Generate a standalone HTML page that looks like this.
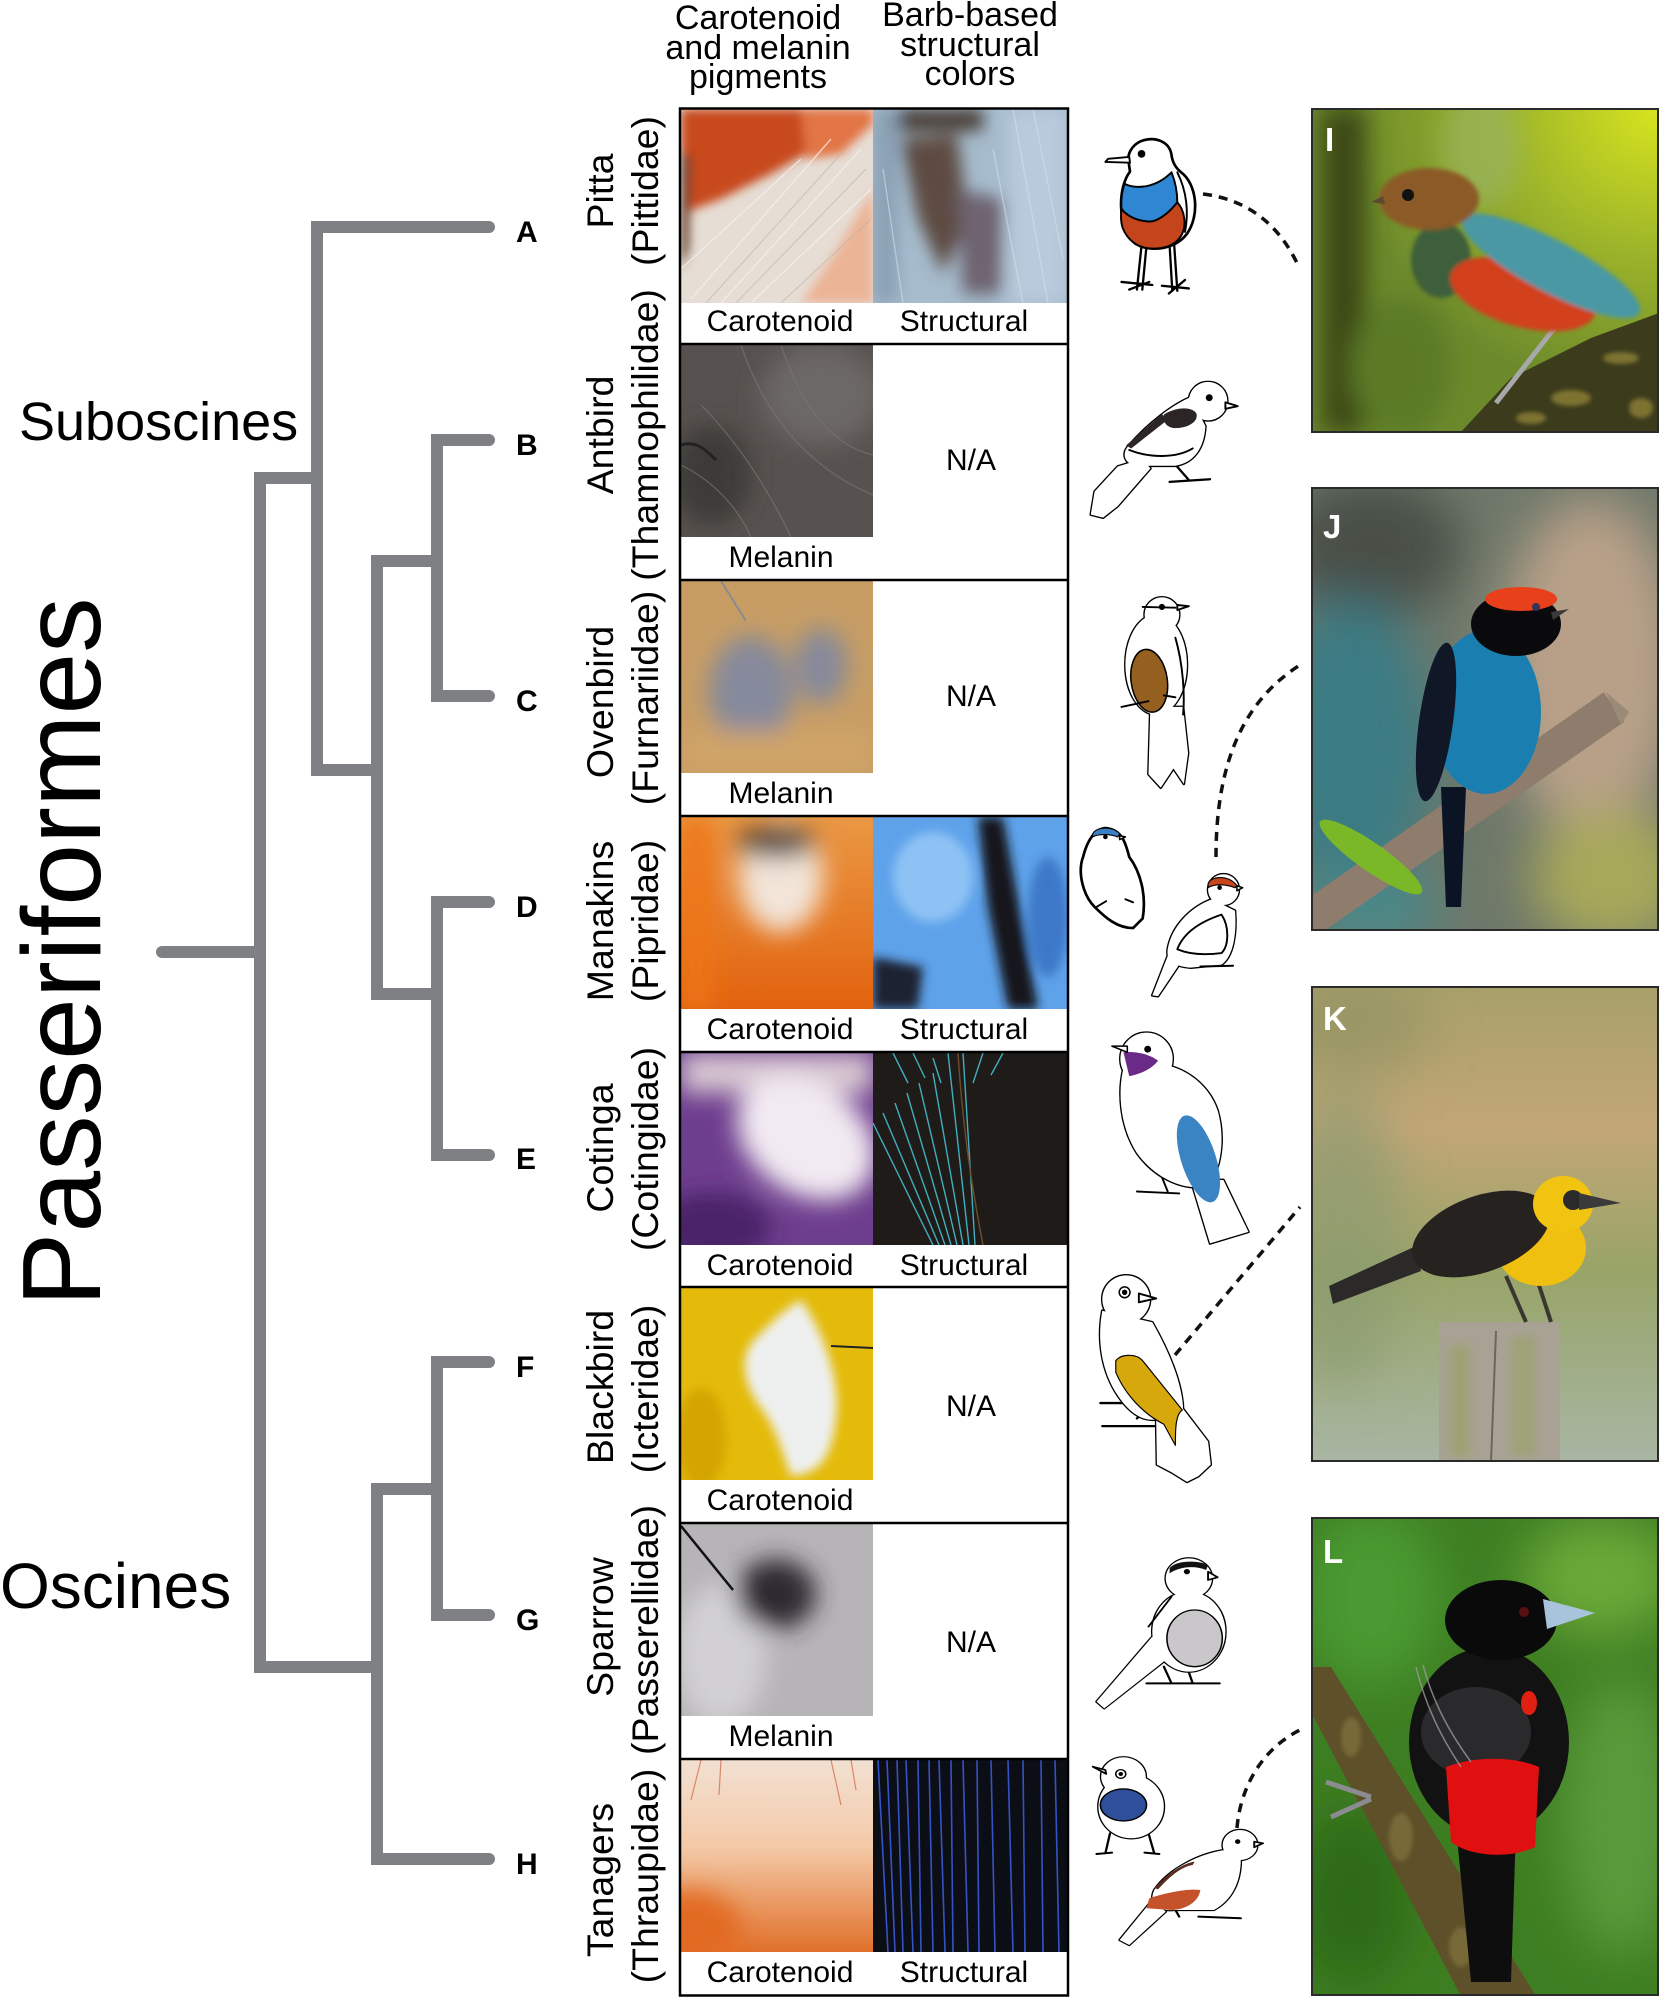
<!DOCTYPE html>
<html><head><meta charset="utf-8"><style>
html,body{margin:0;padding:0;background:#fff;}
svg{display:block;}
text{font-family:"Liberation Sans",Arial,sans-serif;}
</style></head><body>
<svg width="1660" height="1999" viewBox="0 0 1660 1999" xmlns="http://www.w3.org/2000/svg">
<defs>
<filter id="b2" x="-20%" y="-20%" width="140%" height="140%"><feGaussianBlur stdDeviation="2"/></filter>
<filter id="b5" x="-30%" y="-30%" width="160%" height="160%"><feGaussianBlur stdDeviation="5"/></filter>
<filter id="b8" x="-40%" y="-40%" width="180%" height="180%"><feGaussianBlur stdDeviation="8"/></filter>
<filter id="b12" x="-50%" y="-50%" width="200%" height="200%"><feGaussianBlur stdDeviation="12"/></filter>
<filter id="b25" x="-60%" y="-60%" width="220%" height="220%"><feGaussianBlur stdDeviation="25"/></filter>
<radialGradient id="gIy" cx="1" cy="0" r="0.9"><stop offset="0" stop-color="#d8e41e"/><stop offset="0.5" stop-color="#9cb42a"/><stop offset="1" stop-color="#9cb42a" stop-opacity="0"/></radialGradient>
<linearGradient id="gK" x1="0" y1="0" x2="0" y2="1"><stop offset="0" stop-color="#a8a06a"/><stop offset="0.3" stop-color="#c2a676"/><stop offset="0.6" stop-color="#98a468"/><stop offset="1" stop-color="#a8b6a4"/></linearGradient>
<linearGradient id="gDl" x1="0" y1="0" x2="0" y2="1"><stop offset="0" stop-color="#ea9844"/><stop offset="1" stop-color="#e2620e"/></linearGradient>
<linearGradient id="gHl" x1="0" y1="0" x2="0" y2="1"><stop offset="0" stop-color="#f2e0d2"/><stop offset="0.45" stop-color="#f4caa8"/><stop offset="1" stop-color="#e0702a"/></linearGradient>

<g id="sA"><path d="M182 238 C150 280,148 380,195 425 C235 450,300 440,330 400 C365 350,355 270,315 240 C300 228,292 212,290 195 C285 160,250 150,225 155 C195 160,175 185,178 210 Z"/></g>
<g id="sB"><circle cx="385" cy="835" r="50"/><path d="M340 825 C300 840,230 890,175 955 C160 975,170 1000,200 1003 L300 1003 C350 995,375 955,378 900 Z"/><path d="M215 985 L150 1005 L90 1070 L80 1130 L112 1138 L150 1108 L235 1010 Z"/></g>
<g id="sC"><circle cx="265" cy="90" r="45"/><ellipse cx="250" cy="220" rx="80" ry="130"/><path d="M235 330 L230 505 L262 540 L295 490 L322 530 L333 450 L320 330 Z"/></g>
<g id="sD1"><path d="M60 720 C45 760,60 820,90 850 C120 880,150 905,190 905 L215 880 C225 820,210 760,180 720 C170 680,160 650,120 645 C90 645,70 680,60 720 Z"/></g>
<g id="sD2"><circle cx="425" cy="805" r="40"/><path d="M395 830 C340 850,290 900,280 960 C275 990,300 1005,340 1008 L420 1000 C450 980,460 920,455 860 Z"/><path d="M285 965 L240 1080 L255 1082 L310 1000 Z"/></g>
<g id="sE"><circle cx="225" cy="1245" r="68"/><path d="M165 1270 C150 1330,155 1420,200 1490 C250 1560,330 1590,380 1575 C420 1540,430 1450,410 1380 C390 1320,340 1280,290 1265 Z"/><path d="M340 1560 L390 1725 L490 1695 L425 1560 Z"/></g>
<g id="sF"><circle cx="172" cy="570" r="62"/><path d="M110 600 C95 680,110 760,150 820 C190 880,230 890,260 880 L320 860 C320 790,280 700,240 630 Z"/><path d="M250 880 L252 1000 L290 1020 L330 1045 L360 1030 L392 1000 L385 940 L320 855 Z"/></g>
<g id="sG"><circle cx="335" cy="235" r="60"/><ellipse cx="335" cy="395" rx="95" ry="120"/><path d="M240 410 L95 605 L115 625 L275 480 Z"/></g>
<g id="sH1"><circle cx="165" cy="830" r="58"/><ellipse cx="185" cy="920" rx="85" ry="95"/></g>
<g id="sH2"><circle cx="468" cy="1035" r="45"/><path d="M430 1050 C360 1060,280 1110,245 1170 C230 1210,250 1235,300 1230 L400 1230 C450 1200,470 1140,470 1080 Z"/><path d="M240 1200 L155 1320 L180 1335 L275 1235 Z"/></g>
</defs>

<!-- ============ TREE ============ -->
<g stroke="#7f8083" stroke-width="12" fill="none" stroke-linecap="round" stroke-linejoin="miter">
<path d="M162 952 H260"/>
<path d="M317 478 H260 V1667 H377"/>
<path d="M489 227 H317 V770 H377"/>
<path d="M437 561 H377 V994 H437"/>
<path d="M489 440 H437 V696 H489"/>
<path d="M489 902 H437 V1155 H489"/>
<path d="M437 1489 H377 V1859 H489"/>
<path d="M489 1362 H437 V1615 H489"/>
</g>
<g font-weight="bold" font-size="30" fill="#000">
<text x="516" y="242">A</text>
<text x="516" y="455">B</text>
<text x="516" y="711">C</text>
<text x="516" y="917">D</text>
<text x="516" y="1169">E</text>
<text x="516" y="1377">F</text>
<text x="516" y="1630">G</text>
<text x="516" y="1874">H</text>
</g>
<text x="19" y="440" font-size="54" fill="#000">Suboscines</text>
<text x="0" y="1608" font-size="64" fill="#000">Oscines</text>
<text transform="translate(100,952) rotate(-90)" text-anchor="middle" font-size="111" fill="#000">Passeriformes</text>

<!-- ============ HEADERS ============ -->
<g font-size="34" text-anchor="middle" fill="#000">
<text x="758" y="29">Carotenoid</text>
<text x="758" y="59">and melanin</text>
<text x="758" y="88">pigments</text>
<text x="970" y="26">Barb-based</text>
<text x="970" y="56">structural</text>
<text x="970" y="85">colors</text>
</g>

<!-- ============ FAMILY LABELS ============ -->
<g font-size="37.5" text-anchor="middle" fill="#000">
<text transform="translate(613,191) rotate(-90)">Pitta</text>
<text transform="translate(658,191) rotate(-90)">(Pittidae)</text>
<text transform="translate(613,435) rotate(-90)">Antbird</text>
<text transform="translate(658,435) rotate(-90)">(Thamnophilidae)</text>
<text transform="translate(613,702) rotate(-90)">Ovenbird</text>
<text transform="translate(658,698) rotate(-90)">(Furnariidae)</text>
<text transform="translate(613,921) rotate(-90)">Manakins</text>
<text transform="translate(658,921) rotate(-90)">(Pipridae)</text>
<text transform="translate(613,1148) rotate(-90)">Cotinga</text>
<text transform="translate(658,1149) rotate(-90)">(Cotingidae)</text>
<text transform="translate(613,1387) rotate(-90)">Blackbird</text>
<text transform="translate(658,1389) rotate(-90)">(Icteridae)</text>
<text transform="translate(613,1627) rotate(-90)">Sparrow</text>
<text transform="translate(658,1630) rotate(-90)">(Passerellidae)</text>
<text transform="translate(613,1880) rotate(-90)">Tanagers</text>
<text transform="translate(658,1876) rotate(-90)">(Thraupidae)</text>
</g>

<!-- ============ FEATHER CELLS ============ -->
<!-- Row A left -->
<svg x="681" y="109" width="192" height="194">
<rect width="192" height="194" fill="#e6ddd5"/>
<g filter="url(#b5)">
<path d="M0 0 H190 L150 30 L90 65 L40 90 L0 105 Z" fill="#c8481e"/>
<path d="M120 0 H192 V15 L160 45 L125 50 Z" fill="#e27444"/>
<path d="M192 80 L192 194 L120 194 L150 150 Z" fill="#ecb496"/>
<path d="M0 40 L10 50 L8 140 L0 160 Z" fill="#6a4432"/>
</g>
<g stroke="#f6f2ee" stroke-width="1.5" opacity="0.7"><path d="M10 190 L150 30 M40 194 L180 40 M70 194 L190 80 M0 160 L120 50"/></g>
<g stroke="#b8b0a8" stroke-width="1" opacity="0.6"><path d="M25 194 L160 45 M55 194 L185 60 M100 194 L190 110"/></g>
</svg>
<!-- Row A right -->
<svg x="873" y="109" width="194" height="194">
<rect width="194" height="194" fill="#a6bccd"/>
<g filter="url(#b8)">
<rect x="0" y="0" width="110" height="22" fill="#4a3c34"/>
<rect x="0" y="0" width="25" height="194" fill="#8aa0b4"/>
<path d="M27 30 L84 25 L95 110 L70 165 L45 110 Z" fill="#5d4c42"/>
<path d="M84 80 L130 90 L128 185 L90 185 Z" fill="#6e6470"/>
<rect x="135" y="0" width="59" height="194" fill="#b8cadb"/>
</g>
<g stroke="#d4e0ea" stroke-width="1.3" opacity="0.6"><path d="M140 0 L175 194 M160 0 L190 150 M120 40 L150 194 M10 60 L30 194"/></g>
</svg>
<!-- Row B left -->
<svg x="681" y="345" width="192" height="192">
<rect width="192" height="192" fill="#57524f"/>
<g filter="url(#b12)">
<ellipse cx="140" cy="50" rx="60" ry="50" fill="#6c6765"/>
<ellipse cx="30" cy="130" rx="40" ry="50" fill="#3e3a39"/>
</g>
<g stroke="#7a7573" stroke-width="1.2" fill="none" opacity="0.7"><path d="M60 0 C80 60,120 120,192 150 M100 0 C120 60,150 100,192 110 M20 60 C60 100,90 150,110 192 M0 120 C40 140,60 170,70 192"/></g>
<path d="M0 100 C15 95,25 105,35 115" stroke="#222" stroke-width="3" fill="none"/>
</svg>
<!-- Row C left -->
<svg x="681" y="581" width="192" height="192">
<rect width="192" height="192" fill="#c79d64"/>
<g filter="url(#b12)">
<ellipse cx="70" cy="110" rx="42" ry="55" fill="#7a86a6" opacity="0.85"/>
<ellipse cx="140" cy="85" rx="26" ry="38" fill="#7a86a6" opacity="0.85"/>
<rect x="0" y="150" width="192" height="42" fill="#d0a468"/>
</g>
<path d="M40 0 L65 40" stroke="#8a8a90" stroke-width="2"/>
</svg>
<!-- Row D left -->
<svg x="681" y="817" width="192" height="192">
<rect width="192" height="192" fill="url(#gDl)"/>
<g filter="url(#b12)">
<rect x="0" y="0" width="30" height="192" fill="#ee7412"/>
<ellipse cx="100" cy="60" rx="42" ry="55" fill="#f2e4d8"/>
<ellipse cx="95" cy="25" rx="40" ry="16" fill="#5a4434"/>
</g>
</svg>
<!-- Row D right -->
<svg x="873" y="817" width="194" height="192">
<rect width="194" height="192" fill="#5ea2ea"/>
<g filter="url(#b5)">
<path d="M105 0 L130 0 L165 192 L135 192 L115 90 Z" fill="#12161e"/>
<path d="M0 140 L50 150 L45 192 L0 192 Z" fill="#1c2232"/>
<ellipse cx="60" cy="60" rx="40" ry="45" fill="#8ec2f4"/>
<ellipse cx="175" cy="100" rx="20" ry="60" fill="#3c78c8"/>
</g>
</svg>
<!-- Row E left -->
<svg x="681" y="1053" width="192" height="192">
<rect width="192" height="192" fill="#6e3e8e"/>
<g filter="url(#b12)">
<rect x="0" y="0" width="192" height="40" fill="#d8c8d2"/>
<ellipse cx="125" cy="85" rx="75" ry="55" fill="#f2eaf2" transform="rotate(35 125 85)"/>
<ellipse cx="30" cy="175" rx="60" ry="35" fill="#4a2268"/>
</g>
</svg>
<!-- Row E right -->
<svg x="873" y="1053" width="194" height="192">
<rect width="194" height="192" fill="#1e1b19"/>
<g stroke="#45c0d0" stroke-width="1.4" fill="none" opacity="0.9">
<path d="M60 192 L0 70 M66 192 L10 60 M72 192 L22 50 M78 192 L34 40 M84 192 L46 30 M90 192 L60 20 M96 192 L75 0 M102 192 L90 0"/>
<path d="M20 0 L35 30 M40 0 L52 25 M60 5 L68 30 M110 0 L100 30 M130 0 L118 22"/>
</g>
<path d="M85 0 C90 80,100 140,110 192" stroke="#6a4a2a" stroke-width="1.5" fill="none"/>
</svg>
<!-- Row F left -->
<svg x="681" y="1288" width="192" height="192">
<rect width="192" height="192" fill="#e4bb0a"/>
<g filter="url(#b5)">
<path d="M120 12 C140 40,160 90,155 130 C150 170,140 185,110 188 C100 160,95 140,80 120 C65 100,55 70,75 50 C90 35,105 20,120 12 Z" fill="#eef0f0"/>
<ellipse cx="20" cy="150" rx="25" ry="50" fill="#d4a406"/>
</g>
<path d="M150 58 L192 60" stroke="#222" stroke-width="2"/>
</svg>
<!-- Row G left -->
<svg x="681" y="1524" width="192" height="192">
<rect width="192" height="192" fill="#b6b4b7"/>
<g filter="url(#b12)">
<ellipse cx="40" cy="130" rx="45" ry="70" fill="#d2d0d3"/>
<ellipse cx="95" cy="70" rx="40" ry="35" fill="#2e2a30"/>
</g>
<path d="M0 2 L52 66" stroke="#111" stroke-width="2.5"/>
</svg>
<!-- Row H left -->
<svg x="681" y="1760" width="192" height="192">
<rect width="192" height="192" fill="url(#gHl)"/>
<g filter="url(#b12)"><ellipse cx="10" cy="170" rx="50" ry="40" fill="#e26a24"/></g>
<g stroke="#d46040" stroke-width="1.2" fill="none" opacity="0.7"><path d="M20 0 L10 40 M40 0 L38 35 M150 0 L160 45 M170 0 L175 30"/></g>
</svg>
<!-- Row H right -->
<svg x="873" y="1760" width="194" height="192">
<rect width="194" height="192" fill="#0c0e16"/>
<g stroke="#3a5ad8" stroke-width="1.6" fill="none" opacity="0.9">
<path d="M5 0 L15 192 M14 0 L22 192 M24 0 L30 192 M33 0 L40 192 M45 0 L48 192 M56 0 L60 192 M66 0 L72 192 M78 0 L80 192 M90 0 L95 192 M104 0 L106 192 M118 0 L122 192 M135 0 L140 192 M150 0 L152 192 M168 0 L170 192 M182 0 L186 192"/>
</g>
</svg>

<!-- table lines -->
<g stroke="#000" stroke-width="2.5" fill="none">
<rect x="680" y="108.5" width="388" height="1887"/>
<path d="M680 344 H1068 M680 580 H1068 M680 816 H1068 M680 1052 H1068 M680 1287 H1068 M680 1523 H1068 M680 1759 H1068"/>
</g>
<!-- captions -->
<g font-size="30" text-anchor="middle" fill="#000">
<text x="780" y="331">Carotenoid</text><text x="964" y="331">Structural</text>
<text x="781" y="567">Melanin</text><text x="971" y="470">N/A</text>
<text x="781" y="803">Melanin</text><text x="971" y="706">N/A</text>
<text x="780" y="1039">Carotenoid</text><text x="964" y="1039">Structural</text>
<text x="780" y="1275">Carotenoid</text><text x="964" y="1275">Structural</text>
<text x="780" y="1510">Carotenoid</text><text x="971" y="1416">N/A</text>
<text x="781" y="1746">Melanin</text><text x="971" y="1652">N/A</text>
<text x="780" y="1982">Carotenoid</text><text x="964" y="1982">Structural</text>
</g>

<!-- ============ BIRD DRAWINGS ============ -->
<g transform="translate(1060,80) scale(0.3846)" stroke-linejoin="round" stroke-linecap="round">
 <!-- A pitta -->
 <path d="M212 430 L200 545 M225 430 L214 545 M285 430 L292 548 M297 430 L305 548 M160 525 L240 533 M180 545 L232 525 M265 535 L335 542 M283 555 L325 520" stroke="#000" stroke-width="6" fill="none"/>
 <use href="#sA" stroke="#000" stroke-width="7" fill="#fff"/>
 <path d="M168 270 C200 285,250 280,290 240 C300 265,305 290,305 318 C280 350,250 370,230 368 C195 366,170 350,160 335 C158 310,162 285,168 270 Z" fill="#2f87d4" stroke="#000" stroke-width="5"/>
 <path d="M160 335 C170 350,195 366,230 368 C250 370,280 350,305 318 C325 340,330 380,315 405 C300 430,270 440,235 438 C200 436,175 415,163 385 C158 370,158 350,160 335 Z" fill="#c4441c" stroke="#000" stroke-width="5"/>
 <path d="M305 240 C330 290,335 345,325 395" stroke="#000" stroke-width="5" fill="none"/>
 <path d="M180 200 L125 205 L118 213 L182 215 Z" fill="#fff" stroke="#000" stroke-width="5"/>
 <circle cx="212" cy="192" r="10" fill="#000"/>
 <!-- B antbird -->
 <path d="M300 1000 L335 1040 M285 1045 L390 1038" stroke="#000" stroke-width="6" fill="none"/>
 <use href="#sB" stroke="#000" stroke-width="7" fill="#fff"/>
 <use href="#sB" fill="#fff"/>
 <path d="M270 870 C300 850,345 848,355 868 C360 890,330 905,300 905 C280 905,265 890,270 870 Z" fill="#2b2526"/>
 <path d="M265 868 L172 950 L185 958 L278 885 Z" fill="#2b2526"/>
 <path d="M180 962 C230 982,300 985,345 958" stroke="#000" stroke-width="5" fill="none"/>
 <path d="M430 838 L462 848 L430 855 Z" fill="#fff" stroke="#000" stroke-width="5"/>
 <circle cx="388" cy="826" r="9" fill="#000"/>
</g>

<g transform="translate(1060,580) scale(0.3846)" stroke-linejoin="round" stroke-linecap="round">
 <!-- C ovenbird -->
 <use href="#sC" stroke="#000" stroke-width="7" fill="#fff"/>
 <use href="#sC" fill="#fff"/>
 <ellipse cx="232" cy="262" rx="47" ry="82" transform="rotate(-8 232 262)" fill="#95601f" stroke="#000" stroke-width="4"/>
 <path d="M300 150 C320 220,325 300,320 350 M160 330 L230 315 M270 300 L300 305 M215 70 L300 72" stroke="#000" stroke-width="5" fill="none"/>
 <path d="M305 65 L335 68 L305 78 Z" fill="#fff" stroke="#000" stroke-width="5"/>
 <circle cx="265" cy="70" r="8" fill="#000"/>
 <!-- D1 -->
 <use href="#sD1" stroke="#000" stroke-width="7" fill="#fff"/>
 <path d="M85 660 C95 640,140 640,155 660 L150 668 C130 660,100 660,85 668 Z" fill="#3b80c4" stroke="#000" stroke-width="3"/>
 <path d="M155 665 L170 668 L155 675 Z" fill="#fff" stroke="#000" stroke-width="4"/>
 <circle cx="118" cy="668" r="6" fill="#000"/>
 <path d="M95 850 L120 835 M170 830 L190 838" stroke="#000" stroke-width="5" fill="none"/>
 <!-- D2 -->
 <use href="#sD2" stroke="#000" stroke-width="7" fill="#fff"/>
 <use href="#sD2" fill="#fff"/>
 <path d="M385 790 C390 770,440 765,460 795 L455 800 C430 790,400 790,385 800 Z" fill="#c8461e" stroke="#000" stroke-width="3"/>
 <path d="M460 795 L475 800 L460 808 Z" fill="#fff" stroke="#000" stroke-width="4"/>
 <circle cx="415" cy="800" r="6" fill="#000"/>
 <path d="M305 960 C320 920,360 890,420 870 C440 900,440 950,420 970 C380 975,340 975,305 960 Z M365 1005 L450 1003" stroke="#000" stroke-width="5" fill="none"/>
 <!-- E cotinga -->
 <path d="M200 1590 L310 1595 M260 1540 L280 1590" stroke="#000" stroke-width="5" fill="none"/>
 <use href="#sE" stroke="#000" stroke-width="7" fill="#fff"/>
 <use href="#sE" fill="#fff"/>
 <path d="M165 1228 C190 1225,230 1230,255 1250 C240 1270,210 1285,180 1290 Z" fill="#6a2a88"/>
 <path d="M175 1212 L135 1212 L175 1228 Z" fill="#fff" stroke="#000" stroke-width="4"/>
 <circle cx="228" cy="1220" r="9" fill="#000"/>
 <ellipse cx="360" cy="1505" rx="45" ry="118" transform="rotate(-18 360 1505)" fill="#3b84c4"/>
</g>

<g transform="translate(1060,1080) scale(0.3846)" stroke-linejoin="round" stroke-linecap="round">
 <!-- F blackbird -->
 <path d="M105 840 L245 840 M110 900 L245 900 M180 830 L195 860 M200 880 L240 840" stroke="#000" stroke-width="6" fill="none"/>
 <use href="#sF" stroke="#000" stroke-width="7" fill="#fff"/>
 <use href="#sF" fill="#fff"/>
 <path d="M145 730 C160 710,200 712,215 730 L318 858 C300 870,300 910,300 950 L270 895 C220 870,170 820,145 760 Z" fill="#d6a80c" stroke="#000" stroke-width="3"/>
 <path d="M205 555 L250 568 L205 578 Z" fill="#fff" stroke="#000" stroke-width="5"/>
 <circle cx="168" cy="552" r="14" fill="#fff" stroke="#000" stroke-width="4"/>
 <circle cx="168" cy="552" r="7" fill="#000"/>
</g>

<g transform="translate(1060,1500) scale(0.3846,0.3333)" stroke-linejoin="round" stroke-linecap="round">
 <!-- G sparrow -->
 <path d="M225 550 L415 550 M270 500 L290 550 M330 500 L345 550" stroke="#000" stroke-width="6" fill="none"/>
 <use href="#sG" stroke="#000" stroke-width="7" fill="#fff"/>
 <use href="#sG" fill="#fff"/>
 <ellipse cx="350" cy="415" rx="72" ry="85" fill="#c9c7ca" stroke="#000" stroke-width="4"/>
 <path d="M285 205 C300 180,360 180,385 195 L380 210 C350 195,310 200,285 220 Z" fill="#111"/>
 <path d="M385 215 L410 232 L385 240 Z" fill="#fff" stroke="#000" stroke-width="5"/>
 <circle cx="330" cy="215" r="8" fill="#000"/>
 <path d="M290 290 L230 380" stroke="#000" stroke-width="5" fill="none"/>
 <!-- H1 -->
 <path d="M130 1000 L118 1060 M230 1000 L245 1060 M95 1062 L135 1058 M220 1058 L258 1062" stroke="#000" stroke-width="6" fill="none"/>
 <use href="#sH1" stroke="#000" stroke-width="7" fill="#fff"/>
 <use href="#sH1" fill="#fff"/>
 <ellipse cx="165" cy="915" rx="60" ry="48" fill="#2f4f9a" stroke="#000" stroke-width="4"/>
 <path d="M118 810 L85 800 L120 822 Z" fill="#fff" stroke="#000" stroke-width="5"/>
 <circle cx="158" cy="822" r="13" fill="#fff" stroke="#000" stroke-width="4"/>
 <circle cx="158" cy="822" r="6" fill="#000"/>
 <!-- H2 -->
 <path d="M360 1250 L470 1255 M300 1230 L310 1250" stroke="#000" stroke-width="6" fill="none"/>
 <use href="#sH2" stroke="#000" stroke-width="7" fill="#fff"/>
 <use href="#sH2" fill="#fff"/>
 <path d="M232 1195 C270 1180,330 1165,365 1170 C360 1210,320 1230,290 1230 L225 1225 Z" fill="#c4522a"/>
 <path d="M245 1165 C280 1120,320 1090,350 1085 L345 1095 C315 1100,285 1130,255 1168 Z" fill="#5a2a20"/>
 <path d="M505 1025 L528 1030 L505 1042 Z" fill="#fff" stroke="#000" stroke-width="5"/>
 <circle cx="462" cy="1025" r="7" fill="#000"/>
</g>

<!-- dashed connectors -->
<g stroke="#111" stroke-width="3.5" fill="none" stroke-dasharray="9 7">
<path d="M1203 194 Q1268 202 1298 265"/>
<path d="M1216 857 C1216 760,1245 700,1300 665"/>
<path d="M1175 1355 L1300 1207"/>
<path d="M1237 1828 C1240 1790,1260 1750,1300 1730"/>
</g>

<!-- ============ PHOTOS ============ -->
<!-- I -->
<svg x="1311" y="108" width="348" height="325">
<rect width="348" height="325" fill="#6c8a2c"/>
<rect width="348" height="325" fill="url(#gIy)"/>
<g filter="url(#b12)">
<rect x="10" y="0" width="45" height="325" fill="#3c4818"/>
<ellipse cx="170" cy="40" rx="40" ry="60" fill="#9ab460" opacity="0.7"/>
<ellipse cx="90" cy="260" rx="50" ry="70" fill="#5c7a28"/>
</g>
<path d="M149 325 L200 270 L280 230 L348 205 L348 325 Z" fill="#3c3c1c"/>
<g fill="#9a8a3a" opacity="0.7" filter="url(#b2)">
<ellipse cx="260" cy="290" rx="20" ry="8"/><ellipse cx="310" cy="250" rx="18" ry="6"/><ellipse cx="220" cy="310" rx="15" ry="6"/><ellipse cx="330" cy="300" rx="12" ry="10"/>
</g>
<path d="M245 218 L185 295" stroke="#a8a8a8" stroke-width="5"/>
<g filter="url(#b2)">
<ellipse cx="130" cy="152" rx="30" ry="38" fill="#3e5e3a"/>
<ellipse cx="212" cy="186" rx="75" ry="33" transform="rotate(15 212 186)" fill="#d2401a"/>
<ellipse cx="240" cy="158" rx="100" ry="26" transform="rotate(28 240 158)" fill="#4a98a4"/>
<ellipse cx="118" cy="91" rx="50" ry="31" fill="#8c5a28"/>
</g>
<circle cx="97" cy="87" r="6" fill="#111"/>
<path d="M72 88 L60 94 L74 96 Z" fill="#5a4a30"/>
<text x="14" y="43" font-size="33" font-weight="bold" fill="#fff">I</text>
<rect x="1" y="1" width="346" height="323" fill="none" stroke="#2a2a2a" stroke-width="2"/>
</svg>
<!-- J -->
<svg x="1311" y="487" width="348" height="444">
<rect width="348" height="444" fill="#6e786a"/>
<g filter="url(#b25)">
<ellipse cx="60" cy="60" rx="90" ry="70" fill="#4a5046"/>
<ellipse cx="40" cy="260" rx="80" ry="150" fill="#3a7c84"/>
<ellipse cx="280" cy="180" rx="90" ry="170" fill="#b8a088"/>
<ellipse cx="300" cy="390" rx="80" ry="70" fill="#a8a85a"/>
<ellipse cx="60" cy="420" rx="70" ry="40" fill="#4a8888"/>
</g>
<path d="M-10 438 L303 220" stroke="#8e7c6c" stroke-width="36"/>
<path d="M295 205 L318 225 L310 238 Z" fill="#9a8a78"/>
<ellipse cx="60" cy="370" rx="62" ry="14" transform="rotate(35 60 370)" fill="#7ab828"/>
<path d="M130 300 L155 300 L150 420 L135 420 Z" fill="#0a1424"/>
<ellipse cx="175" cy="225" rx="55" ry="82" fill="#1a7fb0"/>
<ellipse cx="125" cy="235" rx="17" ry="80" transform="rotate(8 125 235)" fill="#101828"/>
<ellipse cx="205" cy="137" rx="45" ry="32" fill="#0a0a0c"/>
<ellipse cx="210" cy="112" rx="36" ry="12" fill="#e8401a"/>
<path d="M240 125 L258 122 L242 133 Z" fill="#3a3a3a"/>
<circle cx="225" cy="120" r="4" fill="#335"/>
<text x="12" y="51" font-size="33" font-weight="bold" fill="#fff">J</text>
<rect x="1" y="1" width="346" height="442" fill="none" stroke="#2a2a2a" stroke-width="2"/>
</svg>
<!-- K -->
<svg x="1311" y="986" width="348" height="476">
<rect width="348" height="476" fill="url(#gK)"/>
<g filter="url(#b25)">
<ellipse cx="30" cy="250" rx="60" ry="150" fill="#8a9a70" opacity="0.7"/>
<ellipse cx="40" cy="40" rx="80" ry="50" fill="#8c9060" opacity="0.6"/>
</g>
<rect x="128" y="336" width="121" height="140" fill="#a8a294"/>
<g filter="url(#b5)">
<rect x="140" y="360" width="18" height="110" fill="#98a060" opacity="0.7"/>
<rect x="200" y="350" width="25" height="120" fill="#9aa266" opacity="0.6"/>
</g>
<path d="M185 345 L180 476" stroke="#6a665e" stroke-width="2"/>
<path d="M195 290 L215 336 M225 290 L240 336" stroke="#3a3630" stroke-width="4"/>
<path d="M18 300 L22 318 L110 285 L105 260 Z" fill="#2c2a28"/>
<ellipse cx="230" cy="262" rx="45" ry="38" fill="#f0c010"/>
<ellipse cx="170" cy="248" rx="72" ry="38" transform="rotate(-20 170 248)" fill="#262220"/>
<ellipse cx="252" cy="218" rx="30" ry="28" fill="#f2c412"/>
<circle cx="262" cy="214" r="10" fill="#2a2a2a"/>
<path d="M268 207 L310 217 L268 224 Z" fill="#3a3a3a"/>
<text x="12" y="44" font-size="33" font-weight="bold" fill="#fff">K</text>
<rect x="1" y="1" width="346" height="474" fill="none" stroke="#2a2a2a" stroke-width="2"/>
</svg>
<!-- L -->
<svg x="1311" y="1517" width="348" height="479">
<rect width="348" height="479" fill="#3e7e22"/>
<g filter="url(#b25)">
<ellipse cx="290" cy="60" rx="80" ry="60" fill="#6aa838"/>
<ellipse cx="60" cy="80" rx="70" ry="90" fill="#4a9a30"/>
<ellipse cx="40" cy="380" rx="60" ry="90" fill="#2e6a18"/>
<ellipse cx="310" cy="300" rx="60" ry="140" fill="#5a9a3a"/>
</g>
<path d="M0 150 L20 150 L225 479 L150 479 L0 195 Z" fill="#5e5028"/>
<g fill="#8a7a44" opacity="0.6" filter="url(#b2)"><ellipse cx="40" cy="220" rx="10" ry="20"/><ellipse cx="90" cy="320" rx="12" ry="24"/><ellipse cx="150" cy="430" rx="12" ry="20"/></g>
<path d="M145 310 L205 310 L200 465 L160 465 Z" fill="#0e0e0e"/>
<ellipse cx="178" cy="225" rx="80" ry="95" fill="#121212"/>
<ellipse cx="165" cy="215" rx="55" ry="45" fill="#2a2a2c"/>
<path d="M135 250 C160 240,200 238,228 250 L224 330 C200 342,160 340,140 325 Z" fill="#e01010"/>
<g stroke="#9a9a9e" stroke-width="1.5" fill="none" opacity="0.8"><path d="M105 150 C115 190,130 220,150 250 M112 148 C122 185,138 215,160 245"/></g>
<ellipse cx="218" cy="186" rx="8" ry="12" fill="#e02010"/>
<ellipse cx="190" cy="103" rx="56" ry="40" fill="#0a0a0a"/>
<path d="M232 82 L284 96 L236 112 Z" fill="#a8c4dc"/>
<circle cx="213" cy="95" r="5" fill="#5a1010"/>
<path d="M15 265 L60 280 M20 300 L60 282" stroke="#8a8c90" stroke-width="5"/>
<text x="12" y="46" font-size="33" font-weight="bold" fill="#fff">L</text>
<rect x="1" y="1" width="346" height="477" fill="none" stroke="#2a2a2a" stroke-width="2"/>
</svg>
</svg>
</body></html>
